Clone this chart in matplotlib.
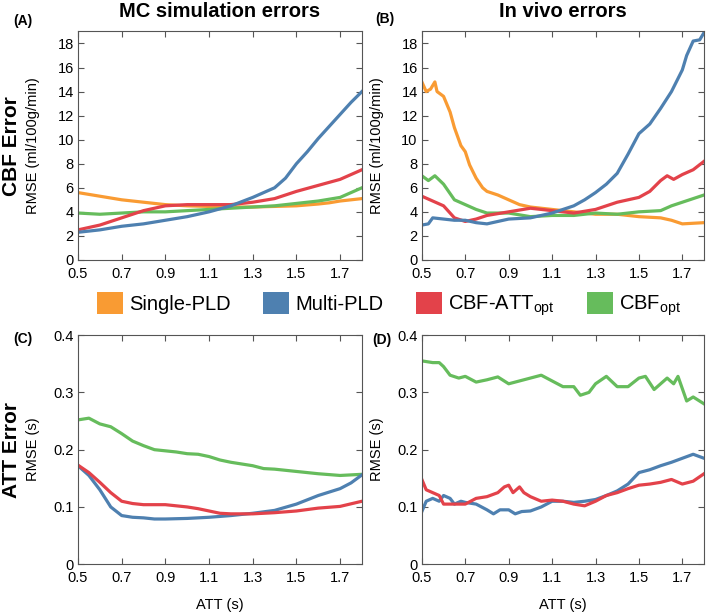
import matplotlib
matplotlib.use("Agg")
import matplotlib.pyplot as plt
from matplotlib.patches import Patch

plt.rcParams['font.family'] = ['Liberation Sans', 'DejaVu Sans']
plt.rcParams['mathtext.fontset'] = 'custom'
plt.rcParams['mathtext.rm'] = 'Liberation Sans'

# colours of the four methods
c_single = '#F99B33'
c_multi = '#4E80B0'
c_cbfatt = '#E3424A'
c_cbf = '#66BC5C'

labels = ['Single-PLD', 'Multi-PLD', 'CBF-ATT$_{\\mathrm{opt}}$', 'CBF$_{\\mathrm{opt}}$']

# (A) MC simulation, CBF RMSE
a_single_x = [0.5, 0.6, 0.7, 0.8, 0.9, 1.0, 1.1, 1.2, 1.3, 1.4, 1.5, 1.6, 1.65, 1.7, 1.8]
a_single_y = [5.6, 5.3, 5.0, 4.8, 4.6, 4.5, 4.45, 4.4, 4.4, 4.45, 4.5, 4.65, 4.75, 4.9, 5.1]
a_multi_x = [0.5, 0.6, 0.7, 0.8, 0.9, 1.0, 1.1, 1.2, 1.3, 1.35, 1.4, 1.45, 1.5, 1.55, 1.6, 1.65, 1.7, 1.75, 1.8]
a_multi_y = [2.3, 2.5, 2.8, 3.0, 3.3, 3.6, 4.0, 4.5, 5.2, 5.6, 6.0, 6.8, 8.0, 9.0, 10.1, 11.1, 12.1, 13.1, 14.0]
a_cbfatt_x = [0.5, 0.6, 0.7, 0.8, 0.9, 1.0, 1.1, 1.2, 1.3, 1.4, 1.5, 1.6, 1.7, 1.75, 1.8]
a_cbfatt_y = [2.5, 2.9, 3.5, 4.1, 4.5, 4.6, 4.6, 4.6, 4.8, 5.1, 5.7, 6.2, 6.7, 7.1, 7.5]
a_cbf_x = [0.5, 0.6, 0.7, 0.8, 0.9, 1.0, 1.1, 1.2, 1.3, 1.4, 1.5, 1.6, 1.7, 1.75, 1.8]
a_cbf_y = [3.9, 3.8, 3.9, 4.0, 4.0, 4.1, 4.2, 4.3, 4.4, 4.5, 4.7, 4.9, 5.2, 5.6, 6.0]

# (B) in vivo, CBF RMSE
b_single_x = [0.5, 0.52, 0.54, 0.56, 0.57, 0.6, 0.63, 0.65, 0.68, 0.7, 0.72, 0.75, 0.78, 0.8, 0.85, 0.9,
              0.95, 1.0, 1.1, 1.2, 1.3, 1.4, 1.5, 1.6, 1.65, 1.7, 1.8]
b_single_y = [14.8, 14.0, 14.2, 14.8, 14.0, 13.6, 12.3, 11.0, 9.5, 9.0, 7.9, 6.8, 6.0, 5.7, 5.4, 5.0,
              4.6, 4.4, 4.2, 4.0, 3.8, 3.8, 3.6, 3.5, 3.3, 3.0, 3.1]
b_multi_x = [0.5, 0.53, 0.55, 0.6, 0.65, 0.7, 0.75, 0.8, 0.85, 0.9, 1.0, 1.1, 1.15, 1.2, 1.25, 1.3, 1.35,
             1.4, 1.45, 1.5, 1.55, 1.6, 1.65, 1.7, 1.72, 1.75, 1.78, 1.8]
b_multi_y = [2.9, 3.0, 3.5, 3.4, 3.3, 3.3, 3.1, 3.0, 3.2, 3.4, 3.5, 3.9, 4.2, 4.5, 5.0, 5.6, 6.3,
             7.2, 8.8, 10.5, 11.3, 12.6, 14.0, 15.8, 17.0, 18.2, 18.3, 18.9]
b_cbfatt_x = [0.5, 0.55, 0.6, 0.65, 0.7, 0.75, 0.8, 0.9, 1.0, 1.1, 1.2, 1.3, 1.4, 1.5, 1.55, 1.6, 1.63,
              1.66, 1.7, 1.75, 1.8]
b_cbfatt_y = [5.3, 4.9, 4.5, 3.5, 3.2, 3.4, 3.7, 4.0, 4.3, 4.1, 3.9, 4.2, 4.8, 5.2, 5.7, 6.6, 7.0,
              6.7, 7.1, 7.5, 8.2]
b_cbf_x = [0.5, 0.53, 0.56, 0.6, 0.65, 0.7, 0.75, 0.8, 0.9, 1.0, 1.1, 1.2, 1.3, 1.4, 1.5, 1.6, 1.65,
           1.7, 1.75, 1.8]
b_cbf_y = [7.0, 6.6, 7.0, 6.3, 5.0, 4.6, 4.2, 3.9, 3.9, 3.6, 3.7, 3.7, 3.9, 3.8, 4.0, 4.1, 4.5,
           4.8, 5.1, 5.4]

# (C) MC simulation, ATT RMSE
c_multi_x = [0.5, 0.55, 0.6, 0.65, 0.7, 0.75, 0.8, 0.85, 0.9, 1.0, 1.1, 1.2, 1.3, 1.4, 1.5, 1.6, 1.7,
             1.75, 1.8]
c_multi_y = [0.172, 0.155, 0.13, 0.1, 0.085, 0.082, 0.081, 0.079, 0.079, 0.08, 0.082, 0.085, 0.089,
             0.094, 0.105, 0.12, 0.132, 0.142, 0.156]
c_cbfatt_x = [0.5, 0.55, 0.6, 0.65, 0.7, 0.75, 0.8, 0.9, 1.0, 1.05, 1.1, 1.15, 1.2, 1.3, 1.4, 1.5,
              1.6, 1.7, 1.8]
c_cbfatt_y = [0.173, 0.16, 0.143, 0.125, 0.11, 0.106, 0.104, 0.104, 0.1, 0.097, 0.093, 0.089, 0.088,
              0.088, 0.09, 0.093, 0.098, 0.101, 0.11]
c_cbf_x = [0.5, 0.55, 0.6, 0.65, 0.7, 0.75, 0.8, 0.85, 0.9, 0.95, 1.0, 1.05, 1.1, 1.15, 1.2, 1.25,
           1.3, 1.35, 1.4, 1.5, 1.6, 1.7, 1.8]
c_cbf_y = [0.252, 0.255, 0.245, 0.24, 0.228, 0.215, 0.207, 0.2, 0.198, 0.196, 0.193, 0.192, 0.188,
           0.182, 0.178, 0.175, 0.172, 0.167, 0.166, 0.162, 0.158, 0.155, 0.157]

# (D) in vivo, ATT RMSE
d_multi_x = [0.5, 0.52, 0.55, 0.58, 0.6, 0.63, 0.65, 0.68, 0.7, 0.75, 0.8, 0.83, 0.86, 0.9, 0.93, 0.96,
             1.0, 1.05, 1.1, 1.15, 1.2, 1.25, 1.3, 1.35, 1.4, 1.45, 1.5, 1.55, 1.6, 1.65, 1.7, 1.75, 1.8]
d_multi_y = [0.092, 0.11, 0.115, 0.11, 0.12, 0.115, 0.105, 0.11, 0.108, 0.105, 0.095, 0.088, 0.095,
             0.095, 0.088, 0.092, 0.093, 0.1, 0.11, 0.11, 0.108, 0.11, 0.113, 0.12, 0.128, 0.14, 0.16,
             0.165, 0.172, 0.178, 0.185, 0.192, 0.185]
d_cbfatt_x = [0.5, 0.52, 0.55, 0.58, 0.6, 0.65, 0.7, 0.75, 0.8, 0.85, 0.88, 0.9, 0.92, 0.95, 0.97, 1.0,
              1.05, 1.1, 1.15, 1.2, 1.25, 1.3, 1.35, 1.4, 1.45, 1.5, 1.55, 1.6, 1.65, 1.7, 1.75, 1.8]
d_cbfatt_y = [0.148, 0.13, 0.125, 0.12, 0.105, 0.105, 0.105, 0.115, 0.118, 0.125, 0.135, 0.138, 0.125,
              0.135, 0.125, 0.118, 0.11, 0.112, 0.11, 0.105, 0.102, 0.11, 0.12, 0.125, 0.132, 0.138,
              0.14, 0.143, 0.148, 0.14, 0.145, 0.158]
d_cbf_x = [0.5, 0.55, 0.58, 0.6, 0.63, 0.67, 0.7, 0.75, 0.8, 0.85, 0.9, 0.95, 1.0, 1.05, 1.1, 1.15,
           1.2, 1.23, 1.27, 1.3, 1.35, 1.4, 1.45, 1.5, 1.53, 1.57, 1.6, 1.63, 1.66, 1.68, 1.72, 1.75, 1.8]
d_cbf_y = [0.355, 0.352, 0.352, 0.345, 0.33, 0.325, 0.328, 0.318, 0.322, 0.327, 0.315, 0.32, 0.325,
           0.33, 0.32, 0.31, 0.31, 0.295, 0.3, 0.315, 0.328, 0.31, 0.31, 0.325, 0.328, 0.305, 0.315,
           0.325, 0.315, 0.328, 0.285, 0.292, 0.28]

xticks = [0.5, 0.7, 0.9, 1.1, 1.3, 1.5, 1.7]

fig = plt.figure(figsize=(7.09, 6.16), dpi=100)
axA = fig.add_axes([0.110, 0.578, 0.4005, 0.371])
axB = fig.add_axes([0.595, 0.578, 0.398, 0.371])
axC = fig.add_axes([0.110, 0.084, 0.4005, 0.372])
axD = fig.add_axes([0.595, 0.084, 0.398, 0.372])

lw = 2.3
axA.plot(a_single_x, a_single_y, color=c_single, lw=lw)
axA.plot(a_cbf_x, a_cbf_y, color=c_cbf, lw=lw)
axA.plot(a_cbfatt_x, a_cbfatt_y, color=c_cbfatt, lw=lw)
axA.plot(a_multi_x, a_multi_y, color=c_multi, lw=lw)

axB.plot(b_single_x, b_single_y, color=c_single, lw=lw)
axB.plot(b_cbf_x, b_cbf_y, color=c_cbf, lw=lw)
axB.plot(b_cbfatt_x, b_cbfatt_y, color=c_cbfatt, lw=lw)
axB.plot(b_multi_x, b_multi_y, color=c_multi, lw=lw)

axC.plot(c_cbf_x, c_cbf_y, color=c_cbf, lw=lw)
axC.plot(c_multi_x, c_multi_y, color=c_multi, lw=lw)
axC.plot(c_cbfatt_x, c_cbfatt_y, color=c_cbfatt, lw=lw)

axD.plot(d_cbf_x, d_cbf_y, color=c_cbf, lw=lw)
axD.plot(d_multi_x, d_multi_y, color=c_multi, lw=lw)
axD.plot(d_cbfatt_x, d_cbfatt_y, color=c_cbfatt, lw=lw)

for ax in [axA, axB, axC, axD]:
    ax.set_xlim(0.5, 1.8)
    ax.set_xticks(xticks)
    ax.set_xticklabels(['%.1f' % t for t in xticks])
    ax.tick_params(direction='in', top=True, right=True, labelsize=10.5, length=4, width=0.8,
                   color='#555555')
    ax.tick_params(axis='x', pad=5)
    ax.tick_params(axis='y', pad=3)
    for s in ax.spines.values():
        s.set_color('#555555')
        s.set_linewidth(0.8)
    ax.yaxis.set_label_coords(-0.135, 0.5)

for ax in [axA, axB]:
    ax.set_ylim(0, 19)
    ax.set_yticks(range(0, 19, 2))
    ax.set_ylabel('RMSE (ml/100g/min)', fontsize=10.5)
for ax in [axC, axD]:
    ax.set_ylim(0, 0.4)
    ax.set_yticks([0, 0.1, 0.2, 0.3, 0.4])
    ax.set_yticklabels(['0', '0.1', '0.2', '0.3', '0.4'])
    ax.set_ylabel('RMSE (s)', fontsize=10.5)
    ax.set_xlabel('ATT (s)', fontsize=10.5)
    ax.xaxis.set_label_coords(0.5, -0.148)

axA.set_title('MC simulation errors', fontsize=14.5, fontweight='bold', pad=10.5)
axB.set_title('In vivo errors', fontsize=14.5, fontweight='bold', pad=10.5)

fig.text(0.019, 0.966, '(A)', fontsize=10, fontweight='bold', ha='left', va='center')
fig.text(0.529, 0.969, '(B)', fontsize=10, fontweight='bold', ha='left', va='center')
fig.text(0.019, 0.450, '(C)', fontsize=10, fontweight='bold', ha='left', va='center')
fig.text(0.525, 0.448, '(D)', fontsize=10, fontweight='bold', ha='left', va='center')

fig.text(0.016, 0.763, 'CBF Error', fontsize=15, fontweight='bold', rotation=90, ha='center', va='center')
fig.text(0.016, 0.270, 'ATT Error', fontsize=15, fontweight='bold', rotation=90, ha='center', va='center')

handles = [Patch(facecolor=c, edgecolor='none') for c in [c_single, c_multi, c_cbfatt, c_cbf]]
fig.legend(handles, labels, loc='center', bbox_to_anchor=(0.549, 0.505), ncol=4, frameon=False,
           fontsize=14.5, handlelength=1.3, handleheight=1.3, handletextpad=0.3, columnspacing=1.6)

fig.savefig('out.png', dpi=100)
